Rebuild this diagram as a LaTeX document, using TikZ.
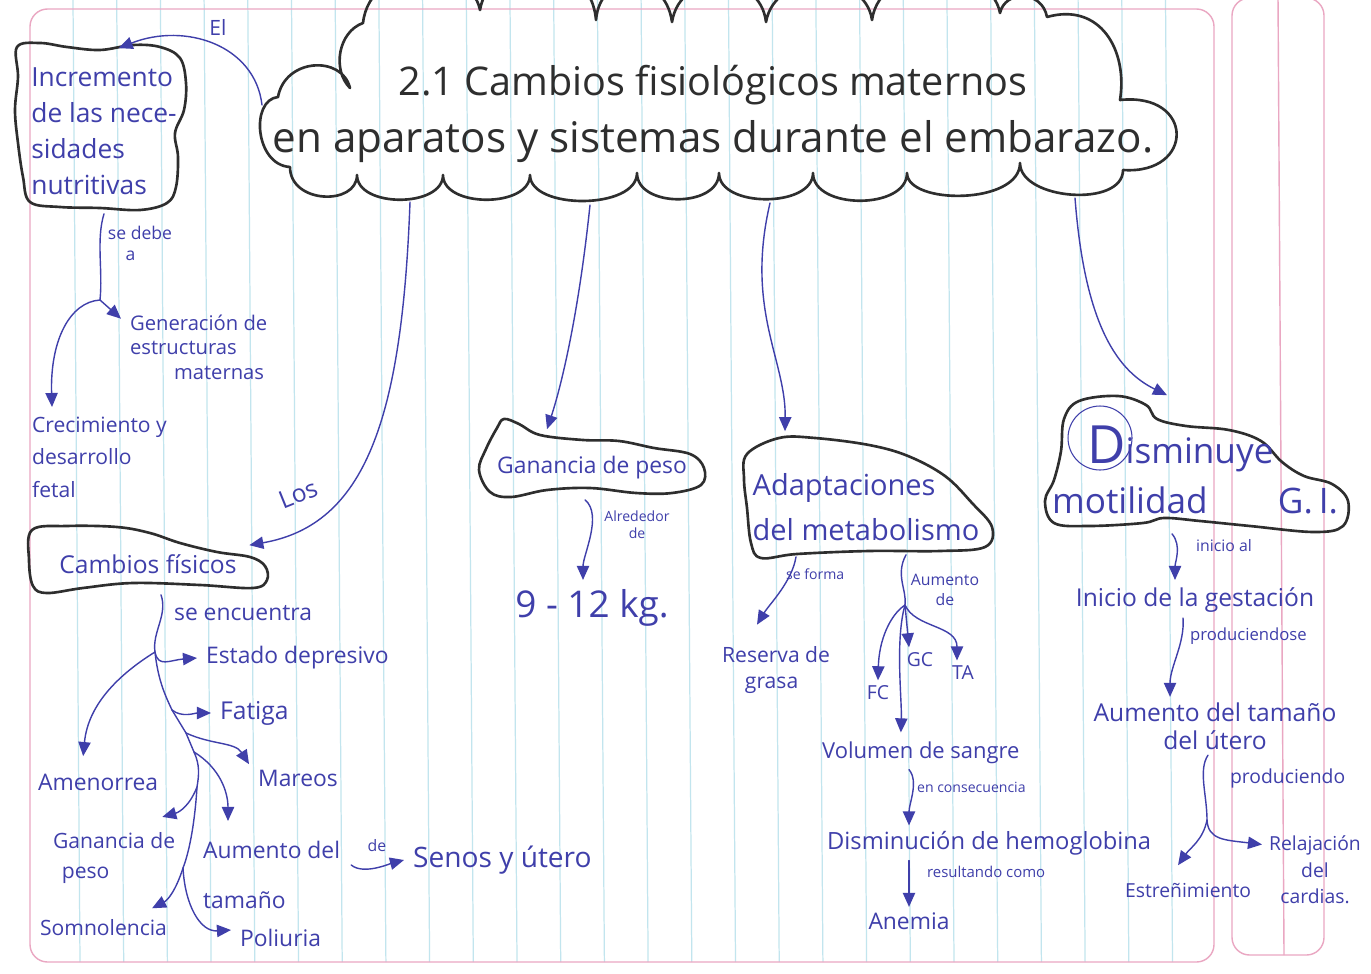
\documentclass[tikz,border=0pt]{standalone}
\usepackage{fontspec}
\setmainfont{Open Sans}
\usetikzlibrary{arrows.meta,calc}
\definecolor{MyInk}{HTML}{3F3FAA}
\definecolor{MyPen}{HTML}{2E2E2E}
\definecolor{MyPink}{HTML}{EAA7C2}
\definecolor{MyRule}{HTML}{C2E5EE}
\tikzset{
  tinta/.style={text=MyInk, inner xsep=5pt, inner ysep=3pt, font=\fontsize{#1}{#1}\selectfont},
  tinta/.default=13,
  nota/.style={text=MyInk, inner sep=1pt, align=center, font=\fontsize{#1}{#1}\selectfont},
  nota/.default=8,
  flecha/.style={draw=MyInk, line width=0.8pt, line cap=round, -{Triangle[length=8pt,width=7pt]}},
  rama/.style={draw=MyInk, line width=0.8pt, line cap=round},
  globo/.style={draw=MyPen, line width=1.5pt, line join=round},
  caja/.style={inner sep=0pt, text=MyInk, align=left}
}
\begin{document}
\begin{tikzpicture}[x=0.02cm, y=-0.02cm]
  \useasboundingbox (0,0) rectangle (1371,973);
  \fill[white] (0,0) rectangle (1371,973);

  % hoja de cuaderno
  \foreach \k in {0,...,25}
    \draw[MyRule, line width=0.7pt] (73+43.7*\k,0) -- (80+43.7*\k,962);
  \draw[MyPink, line width=0.8pt, rounded corners=10pt] (30,9) rectangle (1214,962);
  \draw[MyPink, line width=0.8pt, rounded corners=10pt] (1232,-2) rectangle (1324,955);
  \draw[MyPink, line width=0.8pt] (1278,-2) -- (1284,955);

  % nube del titulo
  \draw[globo] (363,23) .. controls (370,-40) and (470,-40) .. (480,10)
    .. controls (490,-50) and (590,-50) .. (596,20) .. controls (600,-30) and (665,-30) .. (672,22)
    .. controls (680,-30) and (760,-30) .. (766,22) .. controls (775,-30) and (865,-30) .. (872,20)
    .. controls (880,-40) and (990,-40) .. (1000,13) .. controls (1005,-10) and (1042,-10) .. (1047,17)
    .. controls (1100,2) and (1128,50) .. (1120,100) .. controls (1195,92) and (1195,175) .. (1123,170)
    .. controls (1123,208) and (1020,200) .. (1020,163) .. controls (1020,205) and (907,205) .. (907,173)
    .. controls (907,210) and (813,210) .. (813,173) .. controls (813,208) and (719,208) .. (719,173)
    .. controls (719,208) and (637,208) .. (637,173) .. controls (637,210) and (530,210) .. (530,175)
    .. controls (530,208) and (443,208) .. (443,175) .. controls (443,208) and (357,208) .. (357,175)
    .. controls (357,206) and (290,204) .. (290,167) .. controls (255,165) and (250,100) .. (278,97)
    .. controls (285,58) and (342,55) .. (350,88) .. controls (332,70) and (338,32) .. cycle;
  \node[text=MyPen, align=center, font=\fontsize{24}{32}\selectfont] (titulo) at (713,114)
    {{\fontsize{22.5}{32}\selectfont 2.1 Cambios fisiológicos maternos}\\en aparatos y sistemas durante el embarazo.};
  \coordinate (n0) at (262,105);
  \coordinate (n1) at (410,202);
  \coordinate (n2) at (590,205);
  \coordinate (n3) at (770,203);
  \coordinate (n4) at (1075,198);

  % globos
  \draw[globo] plot[smooth cycle, tension=0.6] coordinates {(17,47) (40,43) (67,47) (100,50) (133,45)
    (160,47) (180,58) (186,83) (184,110) (175,133) (178,157) (176,187) (167,203) (140,210) (100,208)
    (60,207) (30,202) (23,177) (18,143) (15,110) (18,77)};
  \draw[globo] plot[smooth cycle, tension=0.6] coordinates {(32,530) (67,526) (117,527) (150,533)
    (180,543) (217,552) (250,557) (265,566) (267,580) (253,588) (200,585) (133,583) (83,588)
    (47,593) (33,586) (29,560)};
  \draw[globo] plot[smooth cycle, tension=0.6] coordinates {(504,419) (519,424) (540,435) (583,440)
    (619,441) (654,448) (690,454) (704,468) (701,485) (672,493) (636,493) (590,488) (547,490)
    (511,497) (490,492) (479,470) (486,449) (497,428)};
  \draw[globo] plot[smooth cycle, tension=0.6] coordinates {(747,454) (779,438) (815,438) (869,445)
    (908,456) (945,476) (972,503) (992,527) (985,547) (940,551) (869,551) (797,554) (761,558)
    (751,543) (747,508) (744,479)};
  \draw[globo] plot[smooth cycle, tension=0.6] coordinates {(1079,401) (1118,396) (1146,405)
    (1157,419) (1186,426) (1229,430) (1261,441) (1282,462) (1304,476) (1332,484) (1348,501)
    (1343,526) (1314,532) (1250,526) (1200,521) (1164,518) (1143,523) (1089,526) (1054,523)
    (1045,501) (1054,480) (1061,451) (1064,419)};
  \draw[MyInk, line width=0.6pt] (1100,438) circle[radius=32];

  % lado izquierdo
  \node[caja, minimum width=3.4cm, minimum height=3.3cm, font=\fontsize{15}{20.5}\selectfont] (incr)
    at (104,131) {Incremento\\de las nece-\\sidades\\nutritivas};
  \node[tinta, anchor=west, align=left, font=\fontsize{11.5}{14}\selectfont] (gener) at (121,347)
    {Generación de\\estructuras\\\hspace*{25pt}maternas};
  \node[tinta, anchor=west, align=left, font=\fontsize{12}{18.5}\selectfont] (crec) at (23,457)
    {Crecimiento y\\desarrollo\\fetal};
  \node[caja, minimum width=4.76cm, minimum height=1.3cm, font=\fontsize{14}{14}\selectfont] (cambios)
    at (148,564) {Cambios físicos};
  \node[tinta=13, anchor=west] (estado) at (197,658) {Estado depresivo};
  \node[tinta=14, anchor=west] (fatiga) at (211,713) {Fatiga};
  \node[tinta=13, anchor=west] (mareos) at (249,778) {Mareos};
  \node[tinta=13, anchor=west] (amen) at (29,782) {Amenorrea};
  \node[tinta, anchor=west, align=left, font=\fontsize{12}{17}\selectfont] (ganB) at (44,858)
    {Ganancia de\\\hspace*{5pt}peso};
  \node[tinta, anchor=west, align=left, font=\fontsize{13}{28}\selectfont] (aum) at (194,875)
    {Aumento del\\tamaño};
  \node[tinta=16, anchor=west] (senos) at (404,860) {Senos y útero};
  \node[tinta=12, anchor=west] (somn) at (31,928) {Somnolencia};
  \node[tinta=13, anchor=west] (poli) at (231,938) {Poliuria};

  % centro
  \node[caja, minimum width=4.44cm, minimum height=1.5cm, font=\fontsize{13}{13}\selectfont] (gan)
    at (592,468) {Ganancia de peso};
  \node[tinta=21] (kg) at (592,608) {9 - 12 kg.};
  \node[caja, minimum width=4.92cm, minimum height=2.3cm, font=\fontsize{16.5}{26}\selectfont] (adapt)
    at (866,507) {Adaptaciones\\del metabolismo};
  \node[tinta, anchor=west, align=left, font=\fontsize{12}{15}\selectfont] (reserva) at (713,670)
    {Reserva de\\\hspace*{13pt}grasa};
  \node[tinta=11] (fc) at (878,693) {FC};
  \node[tinta=11] (gc) at (920,660) {GC};
  \node[tinta=11] (ta) at (963,673) {TA};
  \node[tinta=12.5, anchor=west] (vol) at (813,753) {Volumen de sangre};
  \node[tinta=13.5, anchor=west] (dismH) at (818,843) {Disminución de hemoglobina};
  \node[tinta=13] (anemia) at (909,921) {Anemia};

  % lado derecho
  \node[caja, minimum width=6.06cm, minimum height=2.7cm, font=\fontsize{20}{28}\selectfont] (dism)
    at (1195,470) {\hspace*{20pt}{\fontsize{30}{30}\selectfont D}isminuye\\motilidad\hspace{2em}G.\,I.};
  \node[tinta=14] (inicio) at (1195,600) {Inicio de la gestación};
  \node[tinta, align=center, font=\fontsize{14}{16}\selectfont] (aumU) at (1215,726)
    {Aumento del tamaño\\del útero};
  \node[tinta=11] (estr) at (1188,890) {Estreñimiento};
  \node[tinta, align=center, font=\fontsize{11}{15}\selectfont] (relaj) at (1315,870)
    {Relajación\\del\\cardias.};

  % etiquetas
  \node[nota=12] (lEl) at (218,27) {El};
  \node[nota, align=left, font=\fontsize{10}{12}\selectfont] (lDebe) at (140,243) {se debe\\\hspace*{10pt}a};
  \node[nota=14, rotate=22] (lLos) at (298,494) {Los};
  \node[nota=13, anchor=west] (lEnc) at (172,613) {se encuentra};
  \node[nota=9] (lDe) at (377,846) {de};
  \node[nota, font=\fontsize{8}{9.5}\selectfont] (lAlr) at (637,525) {Alrededor\\de};
  \node[nota=8, anchor=west] (lForma) at (784,574) {se forma};
  \node[nota, font=\fontsize{9}{11}\selectfont] (lAum) at (945,590) {Aumento\\de};
  \node[nota=8, anchor=west] (lCons) at (915,787) {en consecuencia};
  \node[nota=8.5, anchor=west] (lRes) at (925,872) {resultando como};
  \node[nota=9, anchor=west] (lIni) at (1194,546) {inicio al};
  \node[nota=9.5, anchor=west] (lProd) at (1188,636) {produciendose};
  \node[nota=11, anchor=west] (lProd2) at (1228,778) {produciendo};

  % conectores desde el titulo
  \draw[flecha] (n0) .. controls (255,45) and (185,22) .. (incr.80);
  \draw[flecha] (n1) .. controls (402,420) and (365,525) .. ($(cambios.north east)+(-18,14)$);
  \draw[flecha] (n2) .. controls (578,320) and (560,390) .. ($(gan.north)+(-45,-1)$);
  \draw[flecha] (n3) .. controls (745,310) and (786,360) .. ($(adapt.north)+(-81,-18)$);
  \draw[flecha] (n4) .. controls (1085,330) and (1120,372) .. ($(dism.north)+(-28,-7)$);

  % incremento
  \coordinate (q0) at (100,300);
  \draw[rama] (incr.south) .. controls (96,240) and (103,270) .. (q0);
  \draw[flecha] (q0) -- (gener.160);
  \draw[flecha] (q0) .. controls (70,302) and (50,340) .. ($(crec.north west)+(29,-4)$);

  % cambios fisicos
  \coordinate (r0) at (155,652);
  \coordinate (r1) at (172,710);
  \coordinate (r2) at (186,733);
  \coordinate (r3) at (194,752);
  \coordinate (r4) at (197,787);
  \coordinate (r5) at (183,868);
  \draw[rama] ($(cambios.south)+(13,-2)$) .. controls (168,615) and (152,632) .. (r0)
    .. controls (158,680) and (165,695) .. (r1) -- (r2) -- (r3)
    .. controls (200,765) and (199,775) .. (r4) .. controls (195,820) and (190,850) .. (r5);
  \draw[flecha] (r0) .. controls (158,668) and (170,660) .. (estado.west);
  \draw[flecha] (r0) .. controls (118,675) and (88,705) .. ($(amen.north)+(-15,-12)$);
  \draw[flecha] (r1) .. controls (182,718) and (195,713) .. (fatiga.west);
  \draw[flecha] (r2) .. controls (212,745) and (235,742) .. (mareos.north west);
  \draw[flecha] (r3) .. controls (220,768) and (228,792) .. ($(aum.north west)+(34,-15)$);
  \draw[flecha] (r4) .. controls (190,805) and (180,812) .. ($(ganB.north east)+(-22,-10)$);
  \draw[flecha] (r5) .. controls (176,890) and (168,900) .. ($(somn.north east)+(-24,-6)$);
  \draw[flecha] (r5) .. controls (185,905) and (200,932) .. ($(poli.west)+(0,-8)$);
  \draw[flecha] ($(aum.east)+(2,-10)$) .. controls +(12,10) and +(-15,4) .. (senos.west);

  % ganancia y metabolismo
  \draw[flecha] ($(gan.south)+(-7,-6)$) .. controls +(18,15) and +(0,-25) .. ($(kg.north)+(-9,-4)$);
  \coordinate (a1) at (905,605);
  \draw[flecha] ($(adapt.south)+(-70,-8)$) .. controls +(-4,25) and +(12,-20) .. ($(reserva.north west)+(44,-16)$);
  \draw[rama] ($(adapt.south)+(40,-10)$) .. controls (895,575) and (907,590) .. (a1);
  \draw[flecha] (a1) .. controls (890,615) and (879,640) .. (fc.north);
  \draw[flecha] (a1) -- ($(gc.north)+(-11,0)$);
  \draw[flecha] (a1) .. controls (915,628) and (957,625) .. ($(ta.north)+(-6,0)$);
  \draw[flecha] (a1) .. controls (895,640) and (902,700) .. ($(vol.north)+(-20,-4)$);
  \draw[flecha] (anemia.north |- vol.south) .. controls +(10,12) and +(0,-22) .. (anemia.north |- dismH.north);
  \draw[flecha] (anemia.north |- dismH.south) -- (anemia.north);

  % motilidad
  \coordinate (d1) at (1207,820);
  \draw[flecha] ($(dism.south)+(-23,-4)$) .. controls +(10,12) and +(0,-18) .. ($(inicio.north)+(-20,-2)$);
  \draw[flecha] ($(inicio.south)+(-12,0)$) .. controls +(2,25) and +(0,-30) .. ($(aumU.north)+(-45,0)$);
  \draw[rama] ($(aumU.south)+(-7,0)$) .. controls +(-10,15) and +(0,-25) .. (d1);
  \draw[flecha] (d1) .. controls (1203,840) and (1190,848) .. ($(estr.north)+(-10,-12)$);
  \draw[flecha] (d1) .. controls (1208,840) and (1225,840) .. ($(relaj.north west)+(2,14)$);
\end{tikzpicture}
\end{document}
